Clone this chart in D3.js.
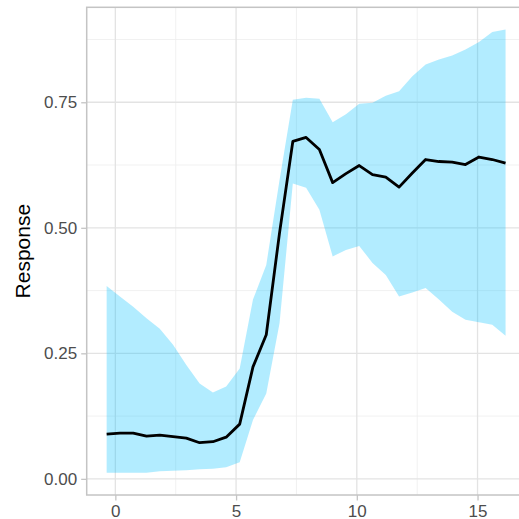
<!DOCTYPE html>
<html><head><meta charset="utf-8">
<script src="https://cdn.jsdelivr.net/npm/d3@7"></script>
<style>body{margin:0;background:#fff}svg{display:block}</style>
</head><body><svg id="c" width="519" height="519"></svg>
<script>
const xs = [-0.36,0.19,0.74,1.29,1.84,2.39,2.94,3.49,4.04,4.59,5.15,5.70,6.25,6.80,7.35,7.90,8.45,9.00,9.55,10.10,10.65,11.20,11.75,12.30,12.85,13.40,13.95,14.50,15.06,15.61,16.16];
const mean = [0.089,0.091,0.091,0.085,0.087,0.084,0.081,0.072,0.074,0.083,0.109,0.223,0.287,0.49,0.672,0.680,0.656,0.590,0.608,0.624,0.606,0.601,0.581,0.609,0.636,0.632,0.631,0.626,0.641,0.636,0.629];
const upper = [0.384,0.363,0.343,0.320,0.299,0.267,0.227,0.190,0.172,0.184,0.220,0.357,0.426,0.595,0.755,0.759,0.757,0.710,0.726,0.747,0.749,0.763,0.772,0.802,0.825,0.835,0.843,0.855,0.870,0.890,0.895];
const lower = [0.012,0.012,0.012,0.012,0.015,0.016,0.017,0.019,0.020,0.023,0.033,0.117,0.170,0.31,0.588,0.580,0.536,0.443,0.456,0.464,0.430,0.406,0.363,0.371,0.380,0.357,0.333,0.317,0.312,0.307,0.285];
const xTicks = [0,5,10,15];
const xMinor = [2.5,7.5,12.5];
const yTicks = [0,0.25,0.5,0.75];
const yMinor = [0.125,0.375,0.625,0.875];
const yTitle = "Response";

const svg = d3.select("#c");
const L=86.7, R=525.5, T=7.3, B=495;
const xmin=d3.min(xs), xmax=d3.max(xs), xr=xmax-xmin;
const ymin=d3.min(lower), ymax=d3.max(upper), yr=ymax-ymin;
const x = d3.scaleLinear().domain([xmin-0.05*xr, xmax+0.05*xr]).range([L,R]);
const y = d3.scaleLinear().domain([ymin-0.05*yr, ymax+0.05*yr]).range([B,T]);

const g = svg.append("g");
// minor grid
g.selectAll(".ym").data(yMinor).join("line").attr("x1",L).attr("x2",R).attr("y1",d=>y(d)).attr("y2",d=>y(d)).attr("stroke","#ededed").attr("stroke-width",0.8);
g.selectAll(".xm").data(xMinor).join("line").attr("y1",T).attr("y2",B).attr("x1",d=>x(d)).attr("x2",d=>x(d)).attr("stroke","#ededed").attr("stroke-width",0.8);
// major grid
g.selectAll(".yM").data(yTicks).join("line").attr("x1",L).attr("x2",R).attr("y1",d=>y(d)).attr("y2",d=>y(d)).attr("stroke","#e3e3e3").attr("stroke-width",1.3);
g.selectAll(".xM").data(xTicks).join("line").attr("y1",T).attr("y2",B).attr("x1",d=>x(d)).attr("x2",d=>x(d)).attr("stroke","#e3e3e3").attr("stroke-width",1.3);

const pts = xs.map((v,i)=>({x:v,m:mean[i],u:upper[i],l:lower[i]}));
svg.append("path").datum(pts)
  .attr("d", d3.area().x(d=>x(d.x)).y0(d=>y(d.l)).y1(d=>y(d.u)))
  .attr("fill","deepskyblue").attr("fill-opacity",0.3);
svg.append("path").datum(pts)
  .attr("d", d3.line().x(d=>x(d.x)).y(d=>y(d.m)))
  .attr("fill","none").attr("stroke","#000").attr("stroke-width",2.8).attr("stroke-linejoin","round");

// panel border
svg.append("rect").attr("x",L).attr("y",T).attr("width",R-L).attr("height",B-T)
  .attr("fill","none").attr("stroke","#c4c4c4").attr("stroke-width",1.5);

// axes
const ax = svg.append("g").attr("transform",`translate(0,${B})`)
  .call(d3.axisBottom(x).tickValues(xTicks).tickFormat(d3.format("d")).tickSize(5.5).tickPadding(4));
const ay = svg.append("g").attr("transform",`translate(${L},0)`)
  .call(d3.axisLeft(y).tickValues(yTicks).tickFormat(d3.format(".2f")).tickSize(5.5).tickPadding(4));
[ax,ay].forEach(a=>{
  a.select(".domain").remove();
  a.selectAll(".tick line").attr("stroke","#c4c4c4").attr("stroke-width",1.3);
  a.selectAll(".tick text").attr("fill","#4d4d4d").style("font-family","'Liberation Sans', Arial, sans-serif").style("font-size","17px");
});
svg.append("text").attr("transform",`translate(30,${(T+B)/2}) rotate(-90)`)
  .attr("text-anchor","middle").attr("fill","#000")
  .style("font-family","'Liberation Sans', Arial, sans-serif").style("font-size","21px")
  .text(yTitle);
</script></body></html>
